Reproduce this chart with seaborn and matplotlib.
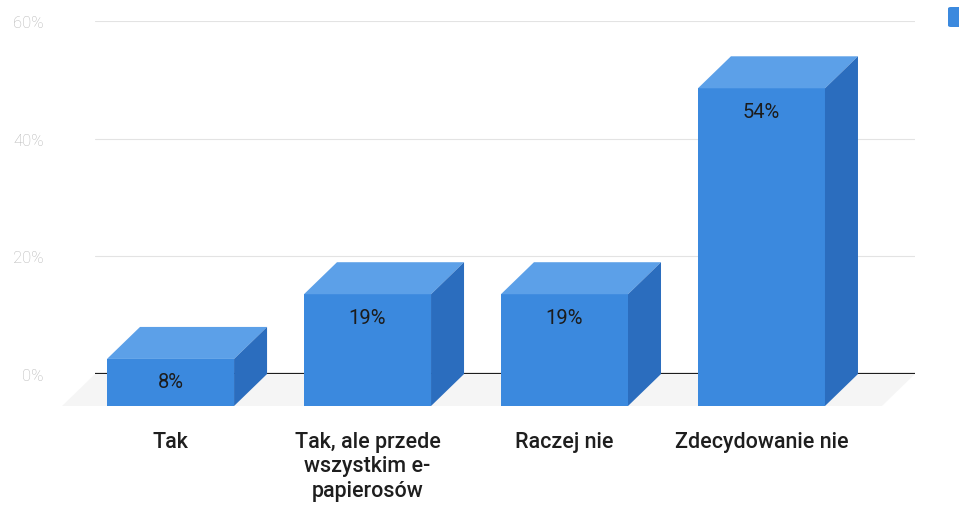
import numpy as np
import pandas as pd
import seaborn as sns
import matplotlib.pyplot as plt
from matplotlib.patches import Polygon, FancyBboxPatch

# Survey answers and their shares (%)
categories = ["Tak", "Tak, ale przede\nwszystkim e-\npapierosów", "Raczej nie", "Zdecydowanie nie"]
values = [8, 19, 19, 54]
yticks = [0, 20, 40, 60]
ytick_labels = ["0%", "20%", "40%", "60%"]

sns.set_theme(style="white")
plt.rcParams["font.family"] = ["Roboto", "DejaVu Sans"]

W, H, DPI = 959, 506, 100
fig = plt.figure(figsize=(W / DPI, H / DPI), dpi=DPI)
ax = fig.add_axes([95 / W, 1 - 375 / H, 820 / W, (375 - 22) / H])

front_c = "#3b89de"
top_c = "#5ca0e8"
side_c = "#2b6dbe"

df = pd.DataFrame({"cat": categories, "val": values})
sns.barplot(data=df, x="cat", y="val", color=front_c, saturation=1,
            width=0.645, ax=ax, zorder=4, linewidth=0, errorbar=None)

ax.set_xlim(-0.551, 3.612)
ax.set_ylim(0, 60)

# depth of the extruded boxes, 33 px left / 32 px down, in data units
fig.canvas.draw()
origin = ax.transData.transform((0, 0))
shifted = ax.transData.inverted().transform(origin + np.array([33.0, 32.0]))
ddx, ddy = shifted[0], shifted[1]

# faint floor under the boxes
x_lo, x_hi = ax.get_xlim()
floor = Polygon([(x_lo, 0), (x_hi, 0), (x_hi - ddx, -ddy), (x_lo - ddx, -ddy)],
                closed=True, facecolor="#eeeeee", edgecolor="none",
                zorder=1, clip_on=False, alpha=0.55)
ax.add_patch(floor)

for p, v in zip(ax.patches[:len(values)], values):
    x0, w, h = p.get_x(), p.get_width(), p.get_height()
    # front face moves toward the viewer
    p.set_x(x0 - ddx)
    p.set_y(-ddy)
    p.set_clip_on(False)
    top = Polygon([(x0 - ddx, h - ddy), (x0 + w - ddx, h - ddy), (x0 + w, h), (x0, h)],
                  closed=True, facecolor=top_c, edgecolor="none", zorder=4, clip_on=False)
    side = Polygon([(x0 + w - ddx, h - ddy), (x0 + w, h), (x0 + w, 0), (x0 + w - ddx, -ddy)],
                   closed=True, facecolor=side_c, edgecolor="none", zorder=4, clip_on=False)
    ax.add_patch(top)
    ax.add_patch(side)
    ax.annotate(f"{v}%", xy=(x0 + w / 2 - ddx, h - ddy), xytext=(0, -23 * 0.72),
                textcoords="offset points", ha="center", va="center",
                fontsize=14.5, color="#1c1c1c", zorder=6, annotation_clip=False)

# grid and baseline
ax.set_yticks(yticks)
ax.set_yticklabels(ytick_labels, fontweight="light")
ax.yaxis.grid(True, color="#e3e3e3", linewidth=0.8, zorder=0)
ax.set_axisbelow(True)
ax.axhline(0, color="#1e1e1e", linewidth=1.6, zorder=2)
for s in ax.spines.values():
    s.set_visible(False)

ax.tick_params(axis="y", length=0, pad=37, labelsize=12, labelcolor="#b5b5b5")
ax.set_xticks(np.arange(len(categories)) - ddx)
ax.set_xticklabels(categories, fontsize=15.5, color="#1e1e1e", fontweight="medium",
                   linespacing=1.22)
ax.tick_params(axis="x", length=0, pad=41)
ax.set_xlabel("")
ax.set_ylabel("")

# legend swatch at the upper right edge
fig.patches.append(FancyBboxPatch((948 / W, 1 - 28 / H), 16 / W, 20 / H,
                                  boxstyle="round,pad=0,rounding_size=0.003",
                                  transform=fig.transFigure, facecolor=front_c,
                                  edgecolor="none"))

fig.savefig("out.png", dpi=DPI)
